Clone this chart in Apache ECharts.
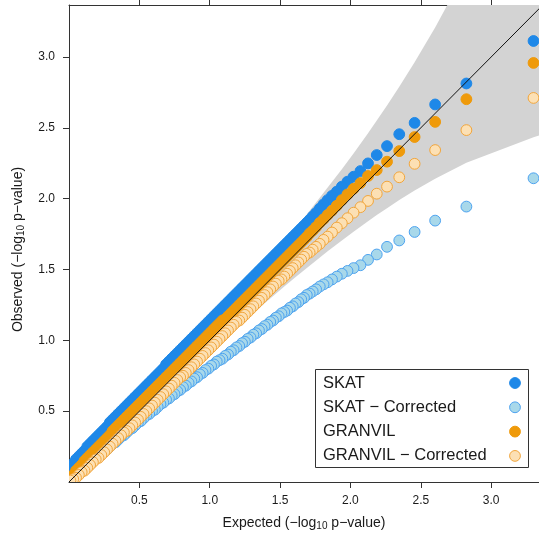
<!DOCTYPE html>
<html>
<head>
<meta charset="utf-8">
<script src="https://cdn.jsdelivr.net/npm/echarts@6/dist/echarts.min.js"></script>
<style>
  html, body { margin: 0; padding: 0; background: #fff; }
  #chart { width: 539px; height: 538px; }
</style>
</head>
<body>
<div id="chart"></div>
<script>
// Expected quantiles (-log10 p) shared by all four tests
const expected = [
  3.301, 2.824, 2.602, 2.456, 2.347, 2.260, 2.187, 2.125, 2.071, 2.022,
  1.979, 1.939, 1.903, 1.869, 1.838, 1.809, 1.782, 1.756, 1.732, 1.710,
  1.69, 1.67, 1.65, 1.63, 1.61, 1.59, 1.57, 1.55, 1.53, 1.51,
  1.49, 1.47, 1.45, 1.43, 1.41, 1.39, 1.37, 1.35, 1.33, 1.31,
  1.29, 1.27, 1.25, 1.23, 1.21, 1.19, 1.17, 1.15, 1.13, 1.11,
  1.09, 1.07, 1.05, 1.03, 1.01, 0.99, 0.97, 0.95, 0.93, 0.91,
  0.89, 0.87, 0.85, 0.83, 0.81, 0.79, 0.77, 0.75, 0.73, 0.71,
  0.69, 0.67, 0.65, 0.63, 0.61, 0.59, 0.57, 0.55, 0.53, 0.51,
  0.49, 0.47, 0.45, 0.43, 0.41, 0.39, 0.37, 0.35, 0.33, 0.31,
  0.29, 0.27, 0.25, 0.23, 0.21, 0.19, 0.17, 0.15, 0.13, 0.11,
  0.09, 0.07, 0.05, 0.03, 0.01
];

// Observed quantiles (-log10 p) per test
const skat = [
  3.113, 2.813, 2.665, 2.535, 2.455, 2.371, 2.308, 2.249, 2.195, 2.155,
  2.120, 2.085, 2.050, 2.020, 1.990, 1.960, 1.930, 1.900, 1.875, 1.850,
  1.83, 1.81, 1.79, 1.77, 1.75, 1.73, 1.71, 1.69, 1.67, 1.65,
  1.63, 1.61, 1.59, 1.57, 1.55, 1.53, 1.51, 1.49, 1.47, 1.45,
  1.43, 1.41, 1.39, 1.37, 1.35, 1.33, 1.31, 1.29, 1.27, 1.25,
  1.23, 1.21, 1.19, 1.17, 1.15, 1.13, 1.11, 1.09, 1.07, 1.05,
  1.03, 1.01, 0.99, 0.97, 0.95, 0.93, 0.91, 0.89, 0.87, 0.85,
  0.83, 0.80, 0.78, 0.76, 0.74, 0.72, 0.70, 0.68, 0.66, 0.64,
  0.62, 0.60, 0.58, 0.56, 0.54, 0.52, 0.50, 0.48, 0.46, 0.44,
  0.42, 0.39, 0.37, 0.35, 0.33, 0.31, 0.29, 0.27, 0.25, 0.22,
  0.20, 0.18, 0.16, 0.13, 0.10
];
const skatCorrected = [
  2.144, 1.944, 1.845, 1.765, 1.705, 1.660, 1.606, 1.568, 1.530, 1.510,
  1.490, 1.470, 1.450, 1.430, 1.410, 1.395, 1.380, 1.360, 1.345, 1.330,
  1.32, 1.30, 1.29, 1.27, 1.26, 1.24, 1.23, 1.21, 1.20, 1.19,
  1.17, 1.16, 1.14, 1.13, 1.11, 1.10, 1.08, 1.07, 1.05, 1.04,
  1.02, 1.01, 0.99, 0.98, 0.96, 0.95, 0.93, 0.92, 0.90, 0.89,
  0.87, 0.86, 0.85, 0.83, 0.82, 0.80, 0.79, 0.77, 0.76, 0.74,
  0.73, 0.71, 0.70, 0.68, 0.67, 0.65, 0.64, 0.62, 0.61, 0.59,
  0.58, 0.56, 0.55, 0.53, 0.51, 0.50, 0.48, 0.47, 0.45, 0.43,
  0.42, 0.40, 0.38, 0.37, 0.35, 0.33, 0.32, 0.30, 0.28, 0.27,
  0.25, 0.23, 0.22, 0.20, 0.18, 0.17, 0.15, 0.13, 0.11, 0.10,
  0.08, 0.06, 0.04, 0.03, 0.01
];
const granvil = [
  2.958, 2.702, 2.542, 2.435, 2.336, 2.261, 2.202, 2.160, 2.110, 2.070,
  2.030, 1.990, 1.950, 1.915, 1.885, 1.855, 1.830, 1.800, 1.775, 1.755,
  1.73, 1.71, 1.69, 1.67, 1.65, 1.63, 1.61, 1.59, 1.57, 1.55,
  1.53, 1.51, 1.49, 1.47, 1.45, 1.43, 1.41, 1.39, 1.37, 1.35,
  1.33, 1.31, 1.29, 1.27, 1.25, 1.23, 1.21, 1.19, 1.17, 1.15,
  1.14, 1.12, 1.10, 1.08, 1.06, 1.04, 1.02, 1.00, 0.98, 0.96,
  0.94, 0.92, 0.90, 0.88, 0.86, 0.84, 0.82, 0.80, 0.78, 0.76,
  0.74, 0.72, 0.70, 0.68, 0.66, 0.64, 0.62, 0.60, 0.58, 0.56,
  0.54, 0.52, 0.50, 0.48, 0.46, 0.44, 0.42, 0.40, 0.38, 0.36,
  0.33, 0.31, 0.29, 0.27, 0.25, 0.23, 0.21, 0.19, 0.17, 0.15,
  0.12, 0.10, 0.08, 0.05, 0.02
];
const granvilCorrected = [
  2.711, 2.484, 2.343, 2.246, 2.151, 2.085, 2.035, 1.984, 1.940, 1.901,
  1.862, 1.827, 1.796, 1.761, 1.732, 1.709, 1.681, 1.660, 1.640, 1.620,
  1.61, 1.59, 1.57, 1.55, 1.53, 1.51, 1.49, 1.47, 1.45, 1.43,
  1.42, 1.40, 1.38, 1.36, 1.34, 1.32, 1.30, 1.28, 1.26, 1.24,
  1.22, 1.20, 1.18, 1.16, 1.14, 1.13, 1.11, 1.09, 1.07, 1.05,
  1.03, 1.01, 0.99, 0.97, 0.95, 0.93, 0.91, 0.89, 0.87, 0.85,
  0.83, 0.81, 0.79, 0.77, 0.75, 0.74, 0.72, 0.70, 0.68, 0.66,
  0.64, 0.62, 0.60, 0.58, 0.56, 0.54, 0.52, 0.50, 0.48, 0.46,
  0.44, 0.42, 0.40, 0.38, 0.36, 0.35, 0.33, 0.31, 0.29, 0.27,
  0.25, 0.23, 0.21, 0.19, 0.17, 0.16, 0.14, 0.12, 0.10, 0.08,
  0.07, 0.05, 0.03, 0.02, 0.01
];

// 95% confidence band around the null expectation
const bandX     = [3.34, 3.301, 2.824, 2.602, 2.456, 2.347, 2.260, 2.187, 2.125, 2.022, 1.939, 1.838, 1.710, 1.611, 1.530, 1.403, 1.305, 1.158, 1.002, 0.825, 0.700, 0.524, 0.302, 0.155, 0.046, 0.0002];
const bandLower = [2.445, 2.434, 2.254, 2.141, 2.057, 1.990, 1.933, 1.884, 1.841, 1.767, 1.705, 1.628, 1.527, 1.447, 1.380, 1.273, 1.188, 1.059, 0.923, 0.762, 0.646, 0.482, 0.274, 0.137, 0.036, 0.00001];
const bandUpper = [4.700, 4.597, 3.616, 3.208, 2.963, 2.790, 2.657, 2.551, 2.462, 2.319, 2.208, 2.078, 1.914, 1.792, 1.694, 1.544, 1.431, 1.263, 1.085, 0.890, 0.754, 0.564, 0.328, 0.172, 0.054, 0.0016];

// Axis ticks
const xTicks = [0.5, 1.0, 1.5, 2.0, 2.5, 3.0];
const yTicks = [0.5, 1.0, 1.5, 2.0, 2.5, 3.0];

const legendNames = ['SKAT', 'SKAT \u2212 Corrected', 'GRANVIL', 'GRANVIL \u2212 Corrected'];

const FONT = '"Liberation Sans", Arial, Helvetica, sans-serif';
const INK = '#1a1a1a';
const R = 5.4;

const styles = [
  { fill: '#1E88E8', stroke: '#1E88E8' },
  { fill: '#A8D8EA', stroke: '#4DA3F0' },
  { fill: '#EF9A0A', stroke: '#EF9A0A' },
  { fill: '#FCE0B4', stroke: '#F2A63C' }
];
const observed = [skat, skatCorrected, granvil, granvilCorrected];

const chart = echarts.init(document.getElementById('chart'), null, { renderer: 'canvas' });

function pointSeries(k) {
  return {
    type: 'custom',
    name: legendNames[k],
    coordinateSystem: 'cartesian2d',
    xAxisIndex: 0, yAxisIndex: 0,
    clip: true,
    silent: true,
    z: 3 + k,
    data: expected.map((x, i) => [x, observed[k][i]]),
    renderItem: function (params, api) {
      const p = api.coord([api.value(0), api.value(1)]);
      return {
        type: 'circle',
        shape: { cx: p[0], cy: p[1], r: R },
        style: { fill: styles[k].fill, stroke: styles[k].stroke, lineWidth: 1 }
      };
    }
  };
}

const bandSeries = {
  type: 'custom',
  coordinateSystem: 'cartesian2d',
  clip: true,
  silent: true,
  z: 1,
  data: [[0, 0]],
  renderItem: function (params, api) {
    const pts = [];
    for (let i = bandX.length - 1; i >= 0; i--) pts.push(api.coord([bandX[i], bandUpper[i]]));
    for (let i = 0; i < bandX.length; i++) pts.push(api.coord([bandX[i], bandLower[i]]));
    return { type: 'polygon', shape: { points: pts }, style: { fill: '#D3D3D3', stroke: null } };
  }
};

const diagSeries = {
  type: 'line',
  data: [[0, 0], [3.5, 3.5]],
  showSymbol: false,
  clip: true,
  silent: true,
  z: 10,
  lineStyle: { color: '#111', width: 1 },
  animation: false
};

const axisCommon = {
  type: 'value',
  splitLine: { show: false },
  axisLine: { show: true, lineStyle: { color: '#333', width: 1 } },
  axisTick: { show: true, inside: false, length: 6, lineStyle: { color: '#333', width: 1 } }
};

const legendGraphics = [{
  type: 'rect', left: 315, top: 369, z: 100,
  shape: { width: 213, height: 98 },
  style: { fill: '#fff', stroke: '#333', lineWidth: 1 }
}];
legendNames.forEach((name, k) => {
  const cy = 383 + k * 24.3;
  legendGraphics.push({
    type: 'text', x: 323, y: cy, z: 101,
    style: { text: name, font: '16.5px ' + FONT, fill: INK, textVerticalAlign: 'middle', textAlign: 'left' }
  });
  legendGraphics.push({
    type: 'circle', z: 101,
    shape: { cx: 515, cy: cy, r: R },
    style: { fill: styles[k].fill, stroke: styles[k].stroke, lineWidth: 1 }
  });
});

const option = {
  animation: false,
  backgroundColor: '#fff',
  grid: { left: 69, right: -3, top: 5, bottom: 56, show: false },
  xAxis: [
    Object.assign({}, axisCommon, {
      position: 'bottom', min: 0, max: 3.34, interval: 0.5,
      axisTick: Object.assign({}, axisCommon.axisTick, { customValues: xTicks }),
      axisLabel: { customValues: xTicks, margin: 13, fontSize: 12, fontFamily: FONT, color: INK,
        formatter: v => v.toFixed(1) },
      name: 'Expected (\u2212log{s|10} p\u2212value)',
      nameLocation: 'middle', nameGap: 33,
      nameTextStyle: { fontSize: 14, fontFamily: FONT, color: INK,
        rich: { s: { fontSize: 10, fontFamily: FONT, color: INK, verticalAlign: 'bottom', padding: [6, 0, 0, 0] } } }
    }),
    Object.assign({}, axisCommon, {
      position: 'top', min: 0, max: 3.34, interval: 0.5,
      axisTick: Object.assign({}, axisCommon.axisTick, { customValues: xTicks }),
      axisLabel: { show: false }
    })
  ],
  yAxis: [
    Object.assign({}, axisCommon, {
      position: 'left', min: 0, max: 3.367, interval: 0.5,
      axisTick: Object.assign({}, axisCommon.axisTick, { customValues: yTicks }),
      axisLabel: { customValues: yTicks, margin: 14, fontSize: 12, fontFamily: FONT, color: INK,
        formatter: v => v.toFixed(1) },
      name: 'Observed (\u2212log{s|10} p\u2212value)',
      nameLocation: 'middle', nameGap: 43, nameRotate: 90,
      nameTextStyle: { fontSize: 14, fontFamily: FONT, color: INK, padding: [0, 12, 0, 0],
        rich: { s: { fontSize: 10, fontFamily: FONT, color: INK, verticalAlign: 'bottom', padding: [6, 0, 0, 0] } } }
    })
  ],
  series: [bandSeries, pointSeries(0), pointSeries(1), pointSeries(2), pointSeries(3), diagSeries],
  graphic: legendGraphics
};

chart.setOption(option);
</script>
</body>
</html>
